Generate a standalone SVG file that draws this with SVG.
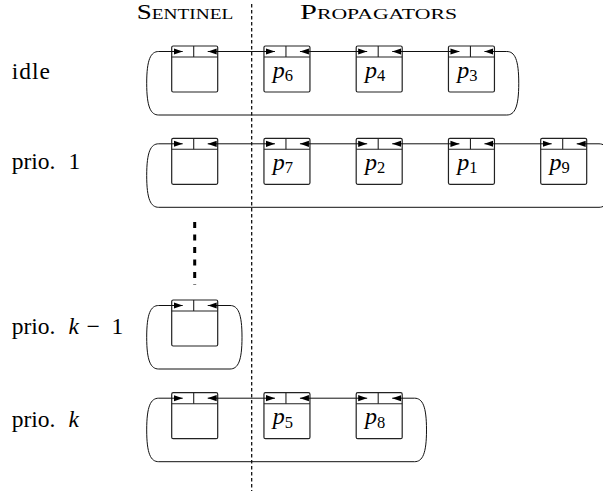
<svg xmlns="http://www.w3.org/2000/svg" width="603" height="491" viewBox="0 0 603 491">
<style>
text{font-family:"Liberation Serif","DejaVu Serif","Times New Roman",serif;fill:#000}
.hdr{font-size:21px;font-variant:small-caps}
.lbl{font-size:23.5px}
.pl{font-size:24px;font-style:italic}
.sub{font-size:16.5px;font-style:normal}
.box rect{fill:#fff;stroke:#222;stroke-width:1.2}
.box line{stroke:#222;stroke-width:1.1}
.conn path{fill:none;stroke:#111;stroke-width:1;marker-start:url(#ah);marker-end:url(#ah)}
</style>
<defs>
<marker id="ah" viewBox="0 0 9 7" refX="9" refY="3.5" markerWidth="9" markerHeight="7" markerUnits="userSpaceOnUse" orient="auto-start-reverse">
<path d="M0,0.4 L9,3.5 L0,6.6 z" fill="#000"/>
</marker>
</defs>
<rect width="603" height="491" fill="#fff"/>

<g id="headers">
<text class="hdr" x="136.7" y="19" textLength="96.6" lengthAdjust="spacingAndGlyphs">Sentinel</text>
<text class="hdr" x="300" y="19" textLength="157" lengthAdjust="spacingAndGlyphs">Propagators</text>
</g>

<g id="labels" font-family="'Liberation Serif', 'DejaVu Serif', serif">
<text class="lbl" x="11.7" y="78.5" textLength="38.3" font-family="'Liberation Serif', 'DejaVu Serif', serif">idle</text>
<text class="lbl" y="169" font-family="'Liberation Serif', 'DejaVu Serif', serif"><tspan x="11.7">prio.</tspan><tspan x="68.5">1</tspan></text>
<text class="lbl" y="334" font-family="'Liberation Serif', 'DejaVu Serif', serif"><tspan x="11.7">prio.</tspan><tspan x="68.5" font-style="italic">k</tspan><tspan x="86.5">−</tspan><tspan x="111.5">1</tspan></text>
<text class="lbl" y="426.5" font-family="'Liberation Serif', 'DejaVu Serif', serif"><tspan x="11.7">prio.</tspan><tspan x="68.5" font-style="italic">k</tspan></text>
</g>

<g id="separator">
<line x1="251.7" y1="4" x2="251.7" y2="491" stroke="#000" stroke-width="1.2" stroke-dasharray="3.5 2.5"/>
</g>
<g id="vdots">
<line x1="194.7" y1="222" x2="194.7" y2="285" stroke="#000" stroke-width="3" stroke-dasharray="6 6.5"/>
</g>

<!-- idle row nodes -->
<g id="idle-sentinel" class="box"><rect x="171.7" y="46" width="46" height="46" rx="1.5"/><line x1="171.7" y1="57" x2="217.7" y2="57"/><line x1="193.7" y1="46" x2="193.7" y2="57"/></g>
<g id="idle-p6" class="box"><rect x="263.95" y="46" width="46" height="46" rx="1.5"/><line x1="263.95" y1="57" x2="309.95" y2="57"/><line x1="285.95" y1="46" x2="285.95" y2="57"/><text class="pl" x="272.8" y="77.7">p<tspan class="sub" dy="3.3">6</tspan></text></g>
<g id="idle-p4" class="box"><rect x="356.2" y="46" width="46" height="46" rx="1.5"/><line x1="356.2" y1="57" x2="402.2" y2="57"/><line x1="378.2" y1="46" x2="378.2" y2="57"/><text class="pl" x="365.1" y="77.7">p<tspan class="sub" dy="3.3">4</tspan></text></g>
<g id="idle-p3" class="box"><rect x="448.45" y="46" width="46" height="46" rx="1.5"/><line x1="448.45" y1="57" x2="494.45" y2="57"/><line x1="470.45" y1="46" x2="470.45" y2="57"/><text class="pl" x="457.35" y="77.7">p<tspan class="sub" dy="3.3">3</tspan></text></g>

<!-- prio 1 row nodes -->
<g id="p1-sentinel" class="box"><rect x="171.7" y="138.3" width="46" height="46" rx="1.5"/><line x1="171.7" y1="149.3" x2="217.7" y2="149.3"/><line x1="193.7" y1="138.3" x2="193.7" y2="149.3"/></g>
<g id="p1-p7" class="box"><rect x="263.95" y="138.3" width="46" height="46" rx="1.5"/><line x1="263.95" y1="149.3" x2="309.95" y2="149.3"/><line x1="285.95" y1="138.3" x2="285.95" y2="149.3"/><text class="pl" x="272.8" y="170">p<tspan class="sub" dy="3.3">7</tspan></text></g>
<g id="p1-p2" class="box"><rect x="356.2" y="138.3" width="46" height="46" rx="1.5"/><line x1="356.2" y1="149.3" x2="402.2" y2="149.3"/><line x1="378.2" y1="138.3" x2="378.2" y2="149.3"/><text class="pl" x="365.1" y="170">p<tspan class="sub" dy="3.3">2</tspan></text></g>
<g id="p1-p1" class="box"><rect x="448.45" y="138.3" width="46" height="46" rx="1.5"/><line x1="448.45" y1="149.3" x2="494.45" y2="149.3"/><line x1="470.45" y1="138.3" x2="470.45" y2="149.3"/><text class="pl" x="457.35" y="170">p<tspan class="sub" dy="3.3">1</tspan></text></g>
<g id="p1-p9" class="box"><rect x="540.7" y="138.3" width="46" height="46" rx="1.5"/><line x1="540.7" y1="149.3" x2="586.7" y2="149.3"/><line x1="562.7" y1="138.3" x2="562.7" y2="149.3"/><text class="pl" x="549.6" y="170">p<tspan class="sub" dy="3.3">9</tspan></text></g>

<!-- prio k-1 row node -->
<g id="pk1-sentinel" class="box"><rect x="171.7" y="300" width="46" height="46" rx="1.5"/><line x1="171.7" y1="311" x2="217.7" y2="311"/><line x1="193.7" y1="300" x2="193.7" y2="311"/></g>

<!-- prio k row nodes -->
<g id="pk-sentinel" class="box"><rect x="171.7" y="392.7" width="46" height="46" rx="1.5"/><line x1="171.7" y1="403.7" x2="217.7" y2="403.7"/><line x1="193.7" y1="392.7" x2="193.7" y2="403.7"/></g>
<g id="pk-p5" class="box"><rect x="263.95" y="392.7" width="46" height="46" rx="1.5"/><line x1="263.95" y1="403.7" x2="309.95" y2="403.7"/><line x1="285.95" y1="392.7" x2="285.95" y2="403.7"/><text class="pl" x="272.8" y="424.4">p<tspan class="sub" dy="3.3">5</tspan></text></g>
<g id="pk-p8" class="box"><rect x="356.2" y="392.7" width="46" height="46" rx="1.5"/><line x1="356.2" y1="403.7" x2="402.2" y2="403.7"/><line x1="378.2" y1="392.7" x2="378.2" y2="403.7"/><text class="pl" x="365.1" y="424.4">p<tspan class="sub" dy="3.3">8</tspan></text></g>

<g id="connectors" class="conn">
<!-- idle row -->
<path d="M207.7,51.5 H274.95"/>
<path d="M299.95,51.5 H367.2"/>
<path d="M392.2,51.5 H459.45"/>
<path d="M484.45,51.5 H506.75 C514.75,51.5 518.75,59.5 518.75,83.25 C518.75,107 514.75,115 506.75,115 H158.7 C150.7,115 146.7,107 146.7,83.25 C146.7,59.5 150.7,51.5 158.7,51.5 H182.7"/>
<!-- prio 1 row -->
<path d="M207.7,143.8 H274.95"/>
<path d="M299.95,143.8 H367.2"/>
<path d="M392.2,143.8 H459.45"/>
<path d="M484.45,143.8 H551.7"/>
<path d="M576.7,143.8 H599 C607,143.8 611,151.8 611,175.55 C611,199.3 607,207.3 599,207.3 H158.7 C150.7,207.3 146.7,199.3 146.7,175.55 C146.7,151.8 150.7,143.8 158.7,143.8 H182.7"/>
<!-- prio k-1 row -->
<path d="M207.7,305.5 H230 C238,305.5 242,313.5 242,337.25 C242,361 238,369 230,369 H158.7 C150.7,369 146.7,361 146.7,337.25 C146.7,313.5 150.7,305.5 158.7,305.5 H182.7"/>
<!-- prio k row -->
<path d="M207.7,398.2 H274.95"/>
<path d="M299.95,398.2 H367.2"/>
<path d="M392.2,398.2 H414.5 C422.5,398.2 426.5,406.2 426.5,429.95 C426.5,453.7 422.5,461.7 414.5,461.7 H158.7 C150.7,461.7 146.7,453.7 146.7,429.95 C146.7,406.2 150.7,398.2 158.7,398.2 H182.7"/>
</g>
</svg>
